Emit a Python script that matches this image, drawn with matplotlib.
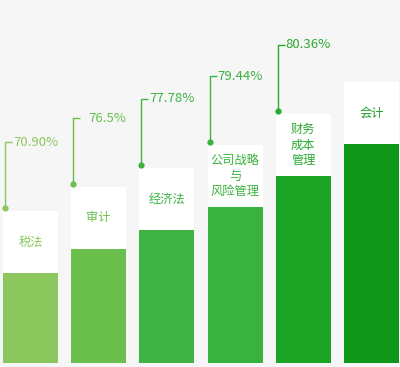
import matplotlib
matplotlib.use("Agg")
import matplotlib.pyplot as plt

plt.rcParams['font.family'] = ['Noto Sans CJK SC', 'DejaVu Sans']

categories = ["税法", "审计", "经济法", "公司战略\n与\n风险管理", "财务\n成本\n管理", "会计"]
bar_heights = [90, 114, 133, 156, 187, 219]
pct_labels = ["70.90%", "76.5%", "77.78%", "79.44%", "80.36%", None]
colors = ["#8cc75d", "#6bbf4d", "#3fb244", "#3ab23f", "#1ca524", "#0f971a"]
text_colors = ["#8cc75d", "#6bbf4d", "#3fb244", "#3ab23f", "#2aa832", "#1f9f28"]

box_h = 62
leader = 66
W, H = 400, 367

fig = plt.figure(figsize=(W / 100, H / 100), dpi=100)
fig.patch.set_facecolor("#f6f6f6")
ax = fig.add_axes([0, 0, 1, 1])
ax.set_facecolor("#f6f6f6")
step = 68.2
ax.set_xlim(-30.5 / step, (W - 30.5) / step)
ax.set_ylim(-4, H - 4)
ax.axis("off")

bw = 55 / step
xs = list(range(len(categories)))
ax.bar(xs, bar_heights, width=bw, color=colors, zorder=2)
ax.bar(xs, [box_h] * len(xs), bottom=bar_heights, width=bw, color="white", zorder=2)

px = 1 / step  # one pixel in x data units
for i, (cat, h, lab) in enumerate(zip(categories, bar_heights, pct_labels)):
    ax.text(i, h + box_h / 2, cat, ha="center", va="center", fontsize=8.8,
            color=text_colors[i], linespacing=1.25, zorder=3)
    if lab is None:
        continue
    x0 = i - bw / 2 + 2 * px
    y0 = h + box_h + 3
    y1 = y0 + leader
    ax.plot([x0, x0, x0 + 7 * px], [y0, y1, y1], color=text_colors[i], lw=1, zorder=3,
            solid_capstyle="butt")
    ax.plot([x0], [y0], "o", color=text_colors[i], ms=3.5, zorder=4)
    ax.text(i + bw / 2, y1, lab, ha="right", va="center", fontsize=9.5,
            color=text_colors[i], zorder=3)

fig.savefig("out.png", dpi=100, facecolor=fig.get_facecolor())
